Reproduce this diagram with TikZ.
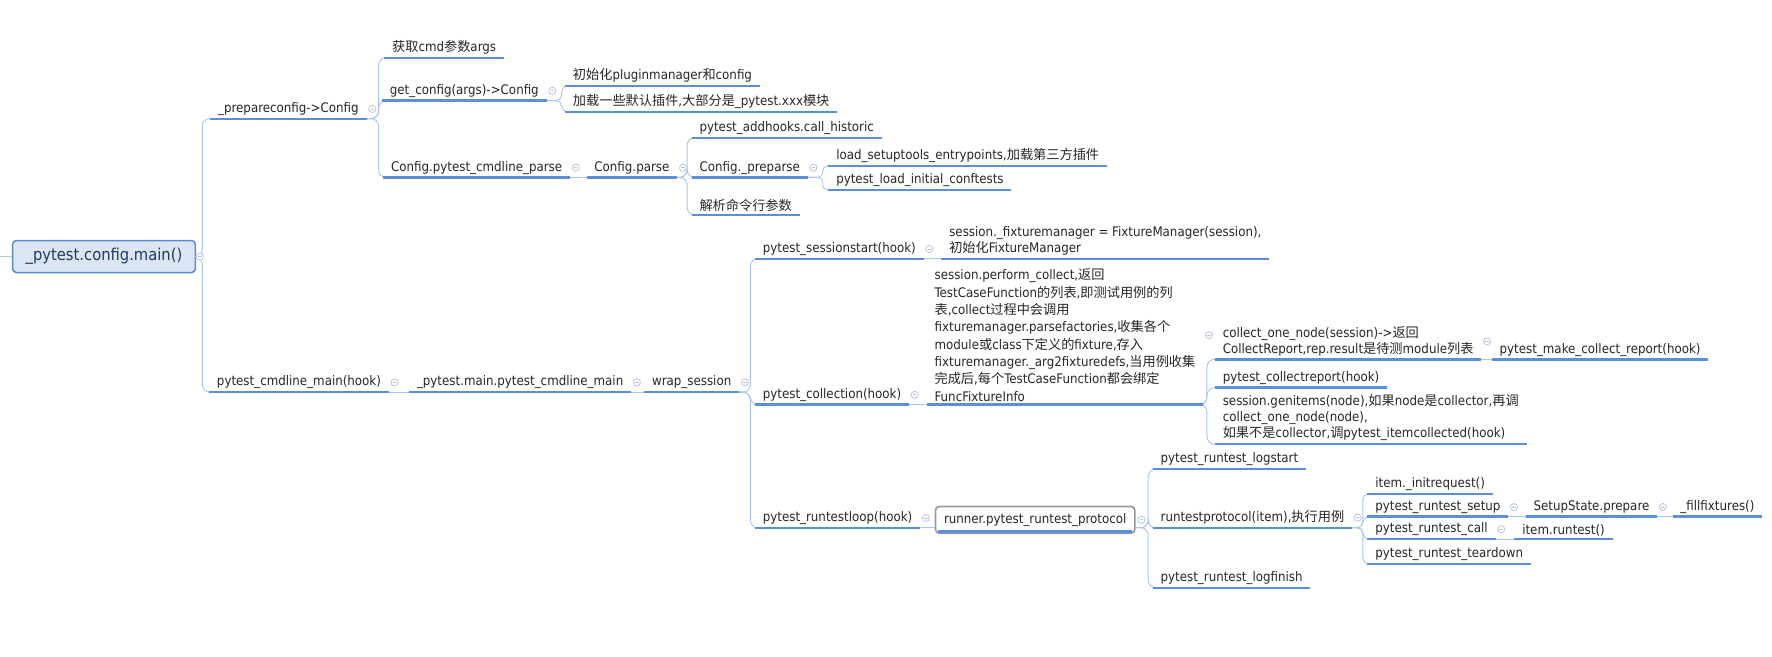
\documentclass[tikz,border=0pt]{standalone}
\usepackage{fontspec}
\setmainfont{DejaVu Sans Condensed}
\newfontfamily\cjkfont{Noto Sans CJK SC}
\newcommand{\zh}[1]{{\cjkfont #1}}
\usetikzlibrary{positioning}
\definecolor{lineblue}{HTML}{5B8FDB}
\definecolor{connblue}{HTML}{A9C5F0}
\definecolor{rootfill}{HTML}{DCE6F2}
\definecolor{rootdraw}{HTML}{5A8AD0}
\definecolor{rootink}{HTML}{1F3A60}
\definecolor{foldgray}{HTML}{B4C2DA}
\definecolor{boxgray}{HTML}{999999}

\begin{document}
\begin{tikzpicture}[
  x=0.6pt, y=-0.6pt,
  topic/.style={anchor=south west, inner xsep=4pt, inner ysep=1.5pt, align=left, text=black!85, font=\fontsize{7}{8.6}\selectfont},
  rootbox/.style={draw=rootdraw, fill=rootfill, rounded corners=2pt, line width=0.8pt, text=rootink, minimum width=97pt, minimum height=17pt, font=\fontsize{8.7}{10}\selectfont},
  runbox/.style={draw=boxgray, fill=white, rounded corners=2pt, line width=0.9pt, inner xsep=4.5pt, inner ysep=3.6pt, text=black!85, font=\fontsize{7}{8.6}\selectfont},
  uline/.style={draw=lineblue, line width=1.2pt},
  conn/.style={draw=connblue, line width=0.5pt, rounded corners=4pt},
  fold/.style={circle, draw=foldgray, fill=white, inner sep=0pt, minimum size=3.8pt, line width=0.4pt,
    path picture={\draw[foldgray, line width=0.4pt] ([xshift=-0.9pt]path picture bounding box.center) -- ([xshift=0.9pt]path picture bounding box.center);}}
]
\useasboundingbox (0,0) rectangle (1568,581);

% root
\node[rootbox] (root) at (92,227) {\_pytest.config.main()};
\coordinate (stub) at (0,227);

% first level
\node[topic] (prep) at (186,105) {\_prepareconfig->Config};
\node[topic] (cmdmain) at (185,347) {pytest\_cmdline\_main(hook)};

% _prepareconfig
\node[topic] (args) at (340,51) {\zh{获取}cmd\zh{参数}args};
\node[topic] (getcfg) at (338,89) {get\_config(args)->Config};
\node[topic] (cmdparse) at (339,157) {Config.pytest\_cmdline\_parse};
\node[topic] (initpm) at (500,76) {\zh{初始化}pluginmanager\zh{和}config};
\node[topic] (loadplug) at (500,99) {\zh{加载一些默认插件},\zh{大部分是}\_pytest.xxx\zh{模块}};
\node[topic] (cfgparse) at (519,157) {Config.parse};
\node[topic] (addhooks) at (612,122) {pytest\_addhooks.call\_historic};
\node[topic] (preparse) at (612,157) {Config.\_preparse};
\node[topic] (parseargs) at (612,190) {\zh{解析命令行参数}};
\node[topic] (setuptools) at (733,147) {load\_setuptools\_entrypoints,\zh{加载第三方插件}};
\node[topic] (conftests) at (733,168) {pytest\_load\_initial\_conftests};

% pytest_cmdline_main
\node[topic] (mainmain) at (362,347) {\_pytest.main.pytest\_cmdline\_main};
\node[topic] (wrap) at (570,347) {wrap\_session};
\node[topic] (sessstart) at (668,229) {pytest\_sessionstart(hook)};
\node[topic] (fixmgr) at (833,229) {session.\_fixturemanager = FixtureManager(session),\\\zh{初始化}FixtureManager};
\node[topic] (collection) at (668,358) {pytest\_collection(hook)};
\node[topic, font=\fontsize{7}{9.2}\selectfont] (perform) at (820,358) {session.perform\_collect,\zh{返回}\\TestCaseFunction\zh{的列表},\zh{即测试用例的列}\\\zh{表},collect\zh{过程中会调用}\\fixturemanager.parsefactories,\zh{收集各个}\\module\zh{或}class\zh{下定义的}fixture,\zh{存入}\\fixturemanager.\_arg2fixturedefs,\zh{当用例收集}\\\zh{完成后},\zh{每个}TestCaseFunction\zh{都会绑定}\\FuncFixtureInfo};
\node[topic] (collone) at (1075,318) {collect\_one\_node(session)->\zh{返回}\\CollectReport,rep.result\zh{是待测}module\zh{列表}};
\node[topic] (makereport) at (1320,318) {pytest\_make\_collect\_report(hook)};
\node[topic] (collreport) at (1075,343) {pytest\_collectreport(hook)};
\node[topic] (genitems) at (1075,393) {session.genitems(node),\zh{如果}node\zh{是}collector,\zh{再调}\\collect\_one\_node(node),\\\zh{如果不是}collector,\zh{调}pytest\_itemcollected(hook)};
\node[topic] (runloop) at (668,467) {pytest\_runtestloop(hook)};
\node[runbox] (runner) at (916,460) {runner.pytest\_runtest\_protocol};
\node[topic] (logstart) at (1020,415) {pytest\_runtest\_logstart};
\node[topic] (runproto) at (1020,467) {runtestprotocol(item),\zh{执行用例}};
\node[topic] (logfinish) at (1020,520) {pytest\_runtest\_logfinish};
\node[topic] (initreq) at (1210,437) {item.\_initrequest()};
\node[topic] (rsetup) at (1210,457) {pytest\_runtest\_setup};
\node[topic] (prepare) at (1350,457) {SetupState.prepare};
\node[topic] (fillfix) at (1480,457) {\_fillfixtures()};
\node[topic] (rcall) at (1210,477) {pytest\_runtest\_call};
\node[topic] (runtest) at (1340,477) {item.runtest()};
\node[topic] (teardown) at (1210,499) {pytest\_runtest\_teardown};

% bracket columns
\coordinate (trunk) at (179,0);
\coordinate (prepB) at (335,0);
\coordinate (getcfgB) at (497,0);
\coordinate (cfgparseB) at (608,0);
\coordinate (preparseB) at (728,0);
\coordinate (wrapB) at (664,0);
\coordinate (performB) at (1068,0);
\coordinate (runnerB) at (1016,0);
\coordinate (runprotoB) at (1206,0);

% connectors
\draw[conn] (stub) -- (root.west);
\foreach \c in {prep,cmdmain}
  \draw[conn] (root.east) -- (root.east -| trunk) |- (\c.south west);
\foreach \c in {args,getcfg,cmdparse}
  \draw[conn] (prep.south east) -- (prep.south east -| prepB) |- (\c.south west);
\foreach \c in {initpm,loadplug}
  \draw[conn, rounded corners=3pt] (getcfg.south east) -- (getcfg.south east -| getcfgB) |- (\c.south west);
\draw[conn] (cmdparse.south east) -- (cfgparse.south west);
\foreach \c in {addhooks,preparse,parseargs}
  \draw[conn] (cfgparse.south east) -- (cfgparse.south east -| cfgparseB) |- (\c.south west);
\foreach \c in {setuptools,conftests}
  \draw[conn, rounded corners=2.5pt] (preparse.south east) -- (preparse.south east -| preparseB) |- (\c.south west);
\draw[conn] (cmdmain.south east) -- (mainmain.south west);
\draw[conn] (mainmain.south east) -- (wrap.south west);
\foreach \c in {sessstart,collection,runloop}
  \draw[conn] (wrap.south east) -- (wrap.south east -| wrapB) |- (\c.south west);
\draw[conn] (sessstart.south east) -- (fixmgr.south west);
\draw[conn] (collection.south east) -- (perform.south west);
\foreach \c in {collone,collreport,genitems}
  \draw[conn] (perform.south east) -- (perform.south east -| performB) |- (\c.south west);
\draw[conn] (collone.south east) -- (makereport.south west);
\draw[conn] (runloop.south east) -- (runloop.south east -| runner.west);
\foreach \c in {logstart,runproto,logfinish}
  \draw[conn] (runproto.south west -| runner.east) -- (runproto.south west -| runnerB) |- (\c.south west);
\foreach \c in {initreq,rsetup,rcall,teardown}
  \draw[conn, rounded corners=3pt] (runproto.south east) -- (runproto.south east -| runprotoB) |- (\c.south west);
\draw[conn] (rsetup.south east) -- (prepare.south west);
\draw[conn] (prepare.south east) -- (fillfix.south west);
\draw[conn] (rcall.south east) -- (runtest.south west);

% underlines
\foreach \n in {prep,cmdmain,args,getcfg,cmdparse,initpm,loadplug,cfgparse,addhooks,preparse,parseargs,setuptools,conftests,mainmain,wrap,sessstart,fixmgr,collection,perform,collone,makereport,collreport,genitems,runloop,logstart,runproto,logfinish,initreq,rsetup,prepare,fillfix,rcall,runtest,teardown}
  \draw[uline] (\n.south west) -- (\n.south east);
\draw[uline] ([shift={(2pt,1.4pt)}]runner.south west) -- ([shift={(-2pt,1.4pt)}]runner.south east);

% fold icons
\node[fold] (root-f) at ([xshift=2pt]root.east) {};
\foreach \n in {prep,getcfg,cmdparse,cfgparse,preparse,cmdmain,mainmain,wrap,sessstart,collection,perform,collone,runloop,runner,runproto,rsetup,prepare,rcall}
  \node[fold] (\n-f) at ([xshift=3pt]\n.east) {};
\end{tikzpicture}
\end{document}
